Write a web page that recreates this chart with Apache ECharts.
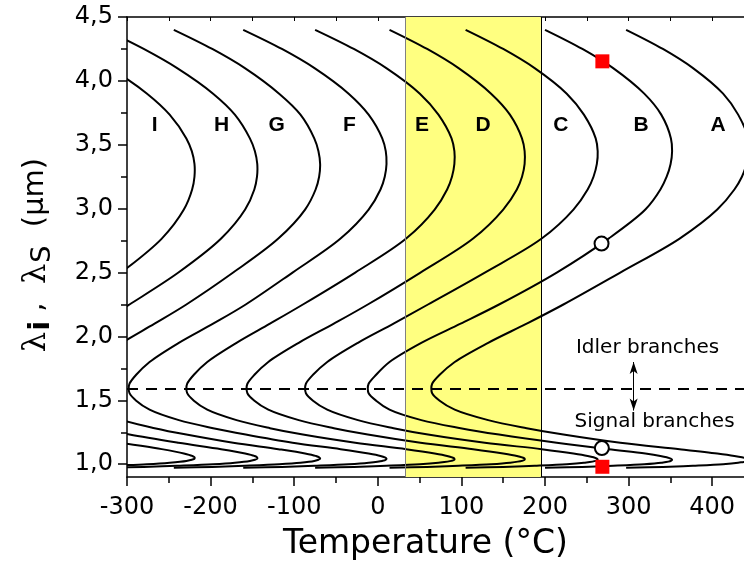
<!DOCTYPE html>
<html><head><meta charset="utf-8">
<script src="https://cdn.jsdelivr.net/npm/echarts@6/dist/echarts.min.js"></script>
<style>html,body{margin:0;padding:0;background:#fff}#c{width:744px;height:569px}</style>
</head><body><div id="c"></div>
<script>
// Idler wavelength levels (µm) and the matching signal wavelengths (same temperature)
const lambdaIdler  = [4.40, 4.25, 4.10, 3.90, 3.736, 3.55, 3.45, 3.35, 3.25, 3.15, 2.993, 2.766, 2.50, 2.25, 2.10, 1.95, 1.80, 1.70, 1.63, 1.592];
const lambdaSignal = [0.972, 0.979, 0.988, 1.000, 1.012, 1.026, 1.035, 1.044, 1.054, 1.065, 1.084, 1.118, 1.168, 1.232, 1.282, 1.345, 1.427, 1.497, 1.556, 1.592];

// Temperature (°C) of each tuning curve at the levels above
const tempA = [297, 341, 377, 413, 431, 443, 444, 441, 435.5, 426.5, 406, 361, 290, 222, 178, 132, 92, 74, 65, 64];
const tempB = [200, 244.7, 281.5, 318.7, 339, 350.6, 352, 350.2, 345.5, 338, 320, 276, 214, 145, 99, 52, 14, -2, -11, -12];
const tempC = [105, 150, 187.6, 226, 246.5, 260.6, 263, 262, 258, 251, 234, 196, 128, 60, 18.8, -23.8, -60.5, -77.5, -86, -87];
const tempD = [14, 59, 96.6, 135.5, 158, 172.4, 175.6, 175.6, 172.5, 166.3, 150, 114, 51, -12, -52.6, -94.6, -131, -147.6, -156, -157];
const tempE = [-75, -28.7, 10.2, 50.3, 72.5, 88.2, 91.6, 91.6, 88.7, 82.9, 68, 33.9, -27, -89.6, -129, -169, -204, -220, -228, -229];
const tempF = [-161, -114.7, -75.7, -34.9, -11, 5.3, 9.5, 10.4, 8.3, 3.2, -11, -44.6, -102, -158, -197, -238, -273, -289, -297, -298];
const tempG = [-244, -198, -159, -118, -92.5, -76, -71, -69, -70.2, -74.4, -87, -119, -173, -229, -267, -306, -340, -355, -363, -364];
const tempH = [-326, -280, -240, -197, -171, -153, -147, -144.2, -144.5, -147.7, -158.7, -187.4, -238.5, -297, -333, -371, -404, -418, -426, -427];
const tempI = [-410, -361, -320, -276, -249, -229, -222.5, -219.3, -219.3, -222.1, -232, -258.4, -307, -362, -397, -433, -464, -478, -486, -487];

const curveNames = ['A', 'B', 'C', 'D', 'E', 'F', 'G', 'H', 'I'];
const curveTemps = [tempA, tempB, tempC, tempD, tempE, tempF, tempG, tempH, tempI];
const labelT = [407, 315, 219, 126, 53, -34, -121, -187, -267];
const labelLambda = 3.65;

const squarePoints = [[268.6, 4.153], [268.6, 0.98]];
const circlePoints = [[267.6, 2.727], [268, 1.126]];
const bandRange = [33, 195];
const degeneracyLambda = 1.592;
const arrowT = 306;
const arrowLambda = [1.80, 1.42];
const noteTexts = [['Idler branches', 322.7, 1.908], ['Signal branches', 331, 1.329]];

const xLabels = [-300, -200, -100, 0, 100, 200, 300, 400];
const xMinor = [-250, -150, -50, 50, 150, 250, 350];
const xTop = [-300, -250, -200, -150, -100, -50, 0, 50, 100, 150, 200, 250, 300, 350, 400];
const yLabels = [1.0, 1.5, 2.0, 2.5, 3.0, 3.5, 4.0, 4.5];
const yMinor = [1.25, 1.75, 2.25, 2.75, 3.25, 3.75, 4.25];

// idler branch (top -> degeneracy) followed by signal branch (degeneracy -> bottom)
function curveData(T) {
  const d = [];
  for (let i = 0; i < T.length; i++) d.push([T[i], lambdaIdler[i]]);
  for (let i = T.length - 2; i >= 0; i--) d.push([T[i], lambdaSignal[i]]);
  return d;
}

// centripetal Catmull-Rom through pixel points -> SVG path
function splinePath(P) {
  let s = 'M' + P[0][0].toFixed(2) + ' ' + P[0][1].toFixed(2);
  const dist = (a, b) => Math.hypot(a[0] - b[0], a[1] - b[1]);
  for (let i = 0; i < P.length - 1; i++) {
    const p0 = P[i - 1] || P[i], p1 = P[i], p2 = P[i + 1], p3 = P[i + 2] || P[i + 1];
    const d1 = dist(p0, p1), d2 = dist(p1, p2), d3 = dist(p2, p3);
    const d1a = Math.sqrt(d1), d2a = Math.sqrt(d2), d3a = Math.sqrt(d3);
    let c1 = p1.slice(), c2 = p2.slice();
    if (d1 > 1e-9 && d2 > 1e-9) {
      const A = 2 * d1 + 3 * d1a * d2a + d2, N = 3 * d1a * (d1a + d2a);
      c1 = [(-d2 * p0[0] + A * p1[0] + d1 * p2[0]) / N, (-d2 * p0[1] + A * p1[1] + d1 * p2[1]) / N];
    }
    if (d3 > 1e-9 && d2 > 1e-9) {
      const B = 2 * d3 + 3 * d3a * d2a + d2, M = 3 * d3a * (d3a + d2a);
      c2 = [(d3 * p1[0] + B * p2[0] - d2 * p3[0]) / M, (d3 * p1[1] + B * p2[1] - d2 * p3[1]) / M];
    }
    s += ' C' + c1[0].toFixed(2) + ' ' + c1[1].toFixed(2) + ' ' + c2[0].toFixed(2) + ' ' + c2[1].toFixed(2) +
         ' ' + p2[0].toFixed(2) + ' ' + p2[1].toFixed(2);
  }
  return s;
}

const FONT = 'DejaVu Sans';
const axisLineStyle = { color: '#000', width: 1.5 };

const series = [
  {
    type: 'line', data: [], z: 1, silent: true,
    markArea: { silent: true, itemStyle: { color: '#ffff80' }, data: [[{ xAxis: bandRange[0] }, { xAxis: bandRange[1] }]] },
    markLine: {
      silent: true, symbol: 'none', label: { show: false }, animation: false,
      data: [
        { xAxis: bandRange[0], lineStyle: { color: '#808080', width: 1, type: 'solid' } },
        { xAxis: bandRange[1], lineStyle: { color: '#000', width: 1, type: 'solid' } },
        { yAxis: degeneracyLambda, lineStyle: { color: '#000', width: 2, type: [11, 8] } }
      ]
    }
  },
  {
    type: 'line', data: [], z: 2, silent: true,
    markLine: {
      silent: true, symbol: ['arrow', 'arrow'], symbolSize: [6, 12], label: { show: false }, animation: false,
      lineStyle: { color: '#000', width: 1, type: 'solid' },
      data: [[{ coord: [arrowT, arrowLambda[0]] }, { coord: [arrowT, arrowLambda[1]] }]]
    }
  }
];

curveNames.forEach((n, k) => {
  const pts = curveData(curveTemps[k]);
  series.push({
    name: n, type: 'custom', coordinateSystem: 'cartesian2d', z: 3, clip: true, silent: true,
    data: pts,
    renderItem: (params, api) => {
      if (params.dataIndex !== 0) return null;
      const px = pts.map(p => api.coord(p));
      return { type: 'path', shape: { pathData: splinePath(px) },
               style: { fill: 'none', stroke: '#000', lineWidth: 2 } };
    }
  });
});

series.push({
  type: 'scatter', z: 4, symbolSize: 0, silent: true, itemStyle: { opacity: 1 },
  data: curveNames.map((n, k) => ({ value: [labelT[k], labelLambda], name: n })),
  label: { show: true, position: 'inside', formatter: p => p.name, color: '#000',
           fontFamily: 'Liberation Sans', fontWeight: 'bold', fontSize: 21 }
});
series.push({
  type: 'scatter', z: 4, symbolSize: 0, silent: true, itemStyle: { opacity: 1 },
  data: noteTexts.map(t => ({ value: [t[1], t[2]], name: t[0] })),
  label: { show: true, position: 'inside', formatter: p => p.name, color: '#000',
           fontFamily: FONT, fontSize: 20 }
});
series.push({
  type: 'scatter', z: 5, symbol: 'rect', symbolSize: 14, silent: true,
  data: squarePoints, itemStyle: { color: '#ff0000', opacity: 1 }
});
series.push({
  type: 'scatter', z: 5, symbol: 'circle', symbolSize: 14, silent: true,
  data: circlePoints, itemStyle: { color: '#fff', borderColor: '#000', borderWidth: 2, opacity: 1 }
});

const chart = echarts.init(document.getElementById('c'), null, { renderer: 'canvas' });
chart.setOption({
  animation: false,
  backgroundColor: '#fff',
  grid: { left: 127, right: 0, top: 17, bottom: 92, containLabel: false, outerBoundsMode: 'none' },
  xAxis: [
    {
      type: 'value', min: -300, max: 438, position: 'bottom',
      axisLine: { onZero: false, lineStyle: axisLineStyle },
      axisTick: { customValues: xLabels, length: 9, lineStyle: axisLineStyle },
      axisLabel: { customValues: xLabels, color: '#000', fontFamily: FONT, fontSize: 24, margin: 19 },
      splitLine: { show: false },
      name: 'Temperature (°C)', nameLocation: 'middle', nameGap: 51,
      nameTextStyle: { fontFamily: FONT, fontSize: 33, color: '#000', padding: [0, 20, 0, 0] }
    },
    {
      type: 'value', min: -300, max: 438, position: 'bottom',
      axisLine: { show: false, onZero: false },
      axisTick: { customValues: xMinor, length: 6, lineStyle: axisLineStyle },
      axisLabel: { show: false }, splitLine: { show: false }
    },
    {
      type: 'value', min: -300, max: 438, position: 'top',
      axisLine: { onZero: false, lineStyle: axisLineStyle },
      axisTick: { customValues: xTop, inside: true, length: 4, lineStyle: { color: '#000', width: 1 } },
      axisLabel: { show: false }, splitLine: { show: false }
    }
  ],
  yAxis: [
    {
      type: 'value', min: 0.9, max: 4.5, position: 'left',
      axisLine: { show: true, onZero: false, lineStyle: axisLineStyle },
      axisTick: { customValues: yLabels, length: 9, lineStyle: axisLineStyle },
      axisLabel: { customValues: yLabels, color: '#000', fontFamily: FONT, fontSize: 24, margin: 14,
                   formatter: v => v.toFixed(1).replace('.', ',') },
      splitLine: { show: false },
      name: '{l|λ}{s|i}{c| ,  }{l|λ}{t|S}{c|  (μm)}',
      nameLocation: 'middle', nameGap: 76,
      nameTextStyle: {
        color: '#000', padding: [0, 16, 0, 0],
        rich: {
          l: { fontFamily: 'DejaVu Serif', fontSize: 32, lineHeight: 30, verticalAlign: 'top', color: '#000' },
          s: { fontFamily: FONT, fontWeight: 'bold', fontSize: 29, lineHeight: 28, padding: [6, 0, 0, 1], verticalAlign: 'top', color: '#000' },
          t: { fontFamily: FONT, fontSize: 27, lineHeight: 26, padding: [8, 0, 0, 1], verticalAlign: 'top', color: '#000' },
          c: { fontFamily: FONT, fontSize: 29, lineHeight: 30, verticalAlign: 'top', color: '#000' }
        }
      }
    },
    {
      type: 'value', min: 0.9, max: 4.5, position: 'left',
      axisLine: { show: false, onZero: false },
      axisTick: { customValues: yMinor, length: 6, lineStyle: axisLineStyle },
      axisLabel: { show: false }, splitLine: { show: false }
    }
  ],
  series: series
});
</script>
</body></html>
